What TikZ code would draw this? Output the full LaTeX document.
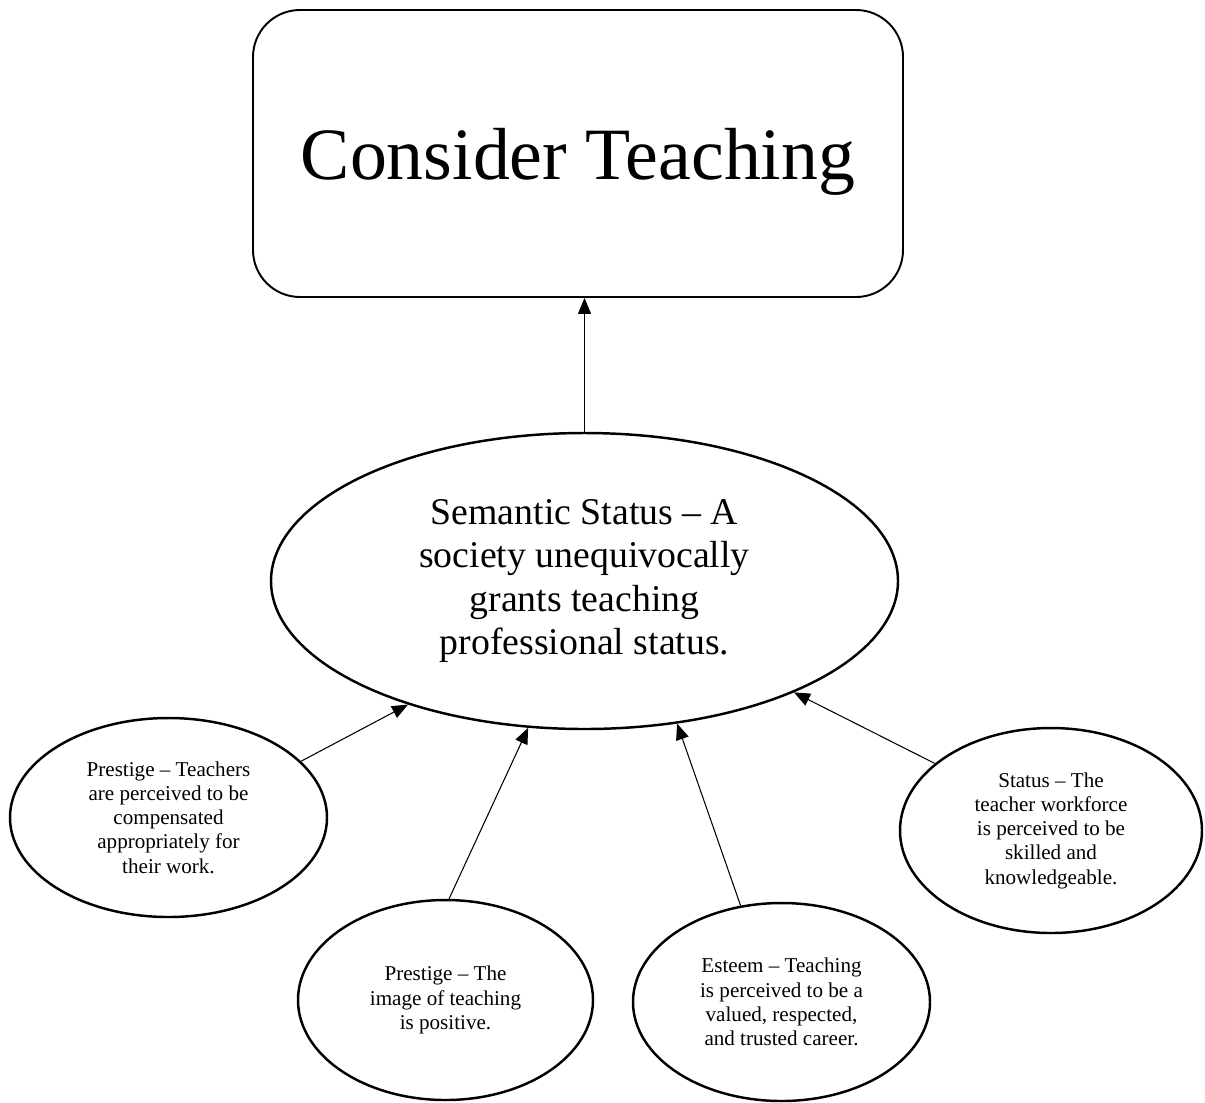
\documentclass[tikz,border=0pt]{standalone}
\usepackage{fontspec}
\setmainfont{Liberation Serif}
\usetikzlibrary{arrows.meta,shapes.geometric}

\begin{document}
\begin{tikzpicture}[
        bubble/.style={draw, ellipse, line width=1.4pt, inner sep=0pt, align=center,
            font=\fontsize{12}{13.8}\selectfont},
        arr/.style={-{Triangle[length=0.32cm, width=0.26cm]}, line width=0.6pt}
    ]
        \useasboundingbox (0,0) rectangle (24.1,-22.04);

        % cil
        \node[draw, rounded corners=0.94cm, line width=1.1pt, minimum width=13cm,
            minimum height=5.74cm, text depth=0pt, font=\fontsize{42}{50}\selectfont]
            (consider) at (11.56,-3.07) {Consider Teaching};

        % hlavni elipsa
        \node[bubble, minimum width=12.54cm, minimum height=5.92cm,
            font=\fontsize{21.5}{24.6}\selectfont]
            (semantic) at (11.69,-11.62)
            {Semantic Status -- A\\society unequivocally\\grants teaching\\professional status.};

        % faktory
        \node[bubble, minimum width=6.34cm, minimum height=3.98cm] (pay) at (3.37,-16.35)
            {Prestige -- Teachers\\are perceived to be\\compensated\\appropriately for\\their work.};
        \node[bubble, minimum width=5.9cm, minimum height=4cm] (image) at (8.91,-20.0)
            {Prestige -- The\\image of teaching\\is positive.};
        \node[bubble, minimum width=5.94cm, minimum height=3.96cm] (esteem) at (15.63,-20.04)
            {Esteem -- Teaching\\is perceived to be a\\valued, respected,\\and trusted career.};
        \node[bubble, minimum width=6.04cm, minimum height=4.1cm] (skill) at (21.02,-16.61)
            {Status -- The\\teacher workforce\\is perceived to be\\skilled and\\knowledgeable.};

        % sipky
        \draw[arr] (semantic.north) -- (semantic.north |- consider.south);
        \draw[arr] (pay.23.6) -- (semantic.215.7);
        \draw[arr] (image.88.6) -- (semantic.249.9);
        \draw[arr] (esteem.113) -- (semantic.303);
        \draw[arr] (skill.150.2) -- (semantic.332.7);

    \end{tikzpicture}
\end{document}
